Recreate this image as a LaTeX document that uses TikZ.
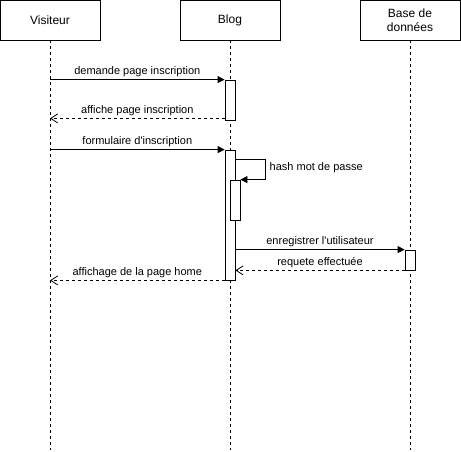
\documentclass[tikz,border=0pt]{standalone}
\usepackage{fontspec}
\setmainfont{Liberation Sans}
\usetikzlibrary{positioning, arrows.meta}
\tikzstyle{head} = [draw, line width=0.8pt, minimum width=100pt, minimum height=40pt, align=center, font=\fontsize{12}{14}\selectfont]
\tikzstyle{lifeline} = [line width=0.8pt, dash pattern=on 3pt off 3pt]
\tikzstyle{activ} = [draw, fill=white, line width=0.8pt, minimum width=10pt, inner sep=0pt]
\tikzstyle{msg} = [line width=0.8pt, -{Triangle[length=7pt,width=7pt]}]
\tikzstyle{reply} = [line width=0.8pt, dash pattern=on 3pt off 3pt, -{Straight Barb[length=7pt,width=9pt]}]
\tikzstyle{lbl} = [font=\fontsize{11}{13}\selectfont, inner sep=2.5pt]

\begin{document}
\begin{tikzpicture}[x=1pt, y=-1pt]
\useasboundingbox (0,0) rectangle (461,452);
\node[head] (visiteur) at (50,20) {Visiteur};
\node[head] (blog) at (230,20) {Blog};
\node[head] (bdd) at (410,20) {Base de\\données};
\coordinate (visiteurend) at (50,450);
\coordinate (blogend) at (230,450);
\coordinate (bddend) at (410,450);
\draw[lifeline] (visiteur) -- (visiteurend);
\draw[lifeline] (blog) -- (blogend);
\draw[lifeline] (bdd) -- (bddend);
% activations
\node[activ, minimum height=40pt] (act1) at (230,100) {};
\node[activ, minimum height=130pt] (act2) at (230,215) {};
\node[activ, minimum height=40pt] (act3) at (235,200) {};
\node[activ, minimum height=20pt] (act4) at (410,260) {};
% messages
\draw[msg] (act1.north west -| visiteur) -- (act1.north west)
	node[lbl, midway, above] {demande page inscription};
\draw[reply] ([yshift=2pt]act1.south west) -- ([yshift=2pt]act1.south west -| visiteur)
	node[lbl, midway, above] {affiche page inscription};
\draw[msg] (act2.north west -| visiteur) -- (act2.north west)
	node[lbl, midway, above] {formulaire d\textquotesingle inscription};
\draw[msg] ([yshift=-10pt]act2.north east) -- ++(30,0) |- (act3.north east);
\node[lbl, anchor=west] (hash) at (267,168) {hash mot de passe};
\draw[msg] (act4.north west -| act2.east) -- (act4.north west)
	node[lbl, midway, above] {enregistrer l\textquotesingle utilisateur};
\draw[reply] (act4.south west) -- (act4.south west -| act2.east)
	node[lbl, midway, above] {requete effectuée};
\draw[reply] (act2.south west) -- (act2.south west -| visiteur)
	node[lbl, midway, above] {affichage de la page home};
\end{tikzpicture}
\end{document}
